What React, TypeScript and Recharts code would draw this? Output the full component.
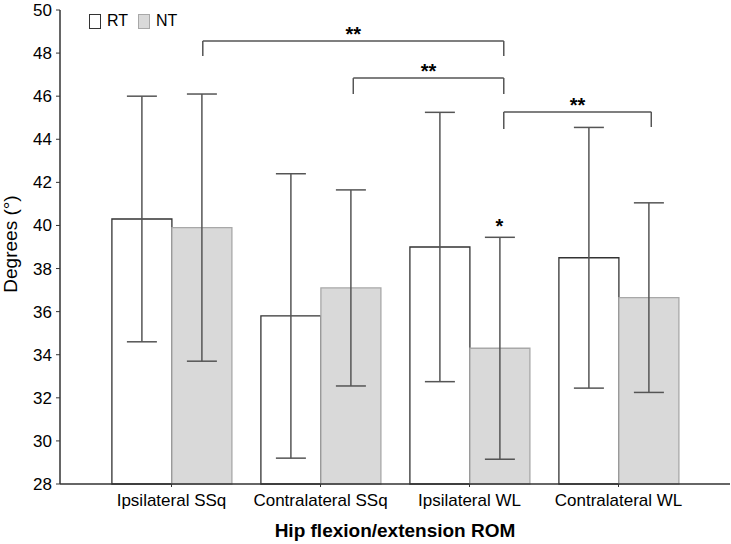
import React from 'react';
import {
  BarChart,
  Bar,
  XAxis,
  YAxis,
  ErrorBar,
  ReferenceLine,
  ReferenceDot,
  Label,
} from 'recharts';

const categories = ['Ipsilateral SSq', 'Contralateral SSq', 'Ipsilateral WL', 'Contralateral WL'];
const rtMean = [40.3, 35.8, 39.0, 38.5];
const rtSd = [5.7, 6.6, 6.25, 6.05];
const ntMean = [39.9, 37.1, 34.3, 36.65];
const ntSd = [6.2, 4.55, 5.15, 4.4];
const yTicks = [28, 30, 32, 34, 36, 38, 40, 42, 44, 46, 48, 50];

// significance brackets, x in group units on a hidden numeric axis (0..4)
const bracketFrom = [0.71, 1.72, 2.73];
const bracketTo = [2.73, 2.73, 3.72];
const bracketLevel = [48.56, 46.84, 45.27];
const bracketFromEnd = [47.87, 46.1, 44.48];
const bracketToEnd = [47.87, 46.1, 44.57];
const bracketText = ['**', '**', '**'];

const starX = 2.7;
const starY = 40.0;

const seriesNames = ['RT', 'NT'];
const seriesFill = ['#ffffff', '#d9d9d9'];
const seriesStroke = ['#333333', '#a8a8a8'];

const data = categories.map((name, i) => ({
  name,
  slot: i + 0.5,
  rt: rtMean[i],
  rtErr: rtSd[i],
  nt: ntMean[i],
  ntErr: ntSd[i],
}));

const FONT = '"Liberation Sans", Arial, sans-serif';

function YLabel({ viewBox }: any) {
  const cx = 10;
  const cy = viewBox.y + viewBox.height / 2 - 3;
  return (
    <text
      x={cx}
      y={cy}
      transform={`rotate(-90 ${cx} ${cy})`}
      textAnchor="middle"
      dominantBaseline="central"
      fontSize={19}
      fill="#000"
      fontFamily={FONT}
    >
      Degrees (°)
    </text>
  );
}

export default function App() {
  return (
    <div style={{ position: 'absolute', left: 0, top: 0, width: 731, height: 544, background: '#fff', fontFamily: FONT }}>
      <BarChart
        width={731}
        height={544}
        data={data}
        margin={{ top: 10, right: 1, left: 0, bottom: 0 }}
        barGap={0}
        barCategoryGap="10%"
      >
        <XAxis
          dataKey="name"
          height={60}
          padding={{ left: 37, right: 37 }}
          axisLine={{ stroke: '#333', strokeWidth: 1.5 }}
          tickLine={{ stroke: '#333' }}
          tickSize={3}
          tickMargin={7}
          tick={{ fontSize: 17, fill: '#000', fontFamily: FONT }}
        >
          <Label
            value="Hip flexion/extension ROM"
            position="insideBottom"
            offset={7}
            style={{ fontSize: 19, fontWeight: 'bold', fill: '#000', fontFamily: FONT }}
          />
        </XAxis>
        <XAxis
          xAxisId="num"
          dataKey="slot"
          type="number"
          domain={[0, 4]}
          ticks={[0, 1, 2, 3, 4]}
          allowDataOverflow
          padding={{ left: 37, right: 37 }}
          hide
        />
        <YAxis
          width={60}
          domain={[28, 50]}
          ticks={yTicks}
          interval={0}
          axisLine={{ stroke: '#333', strokeWidth: 1.5 }}
          tickLine={{ stroke: '#333' }}
          tickSize={4}
          tickMargin={4}
          tick={{ fontSize: 17, fill: '#000', fontFamily: FONT }}
          label={<YLabel />}
        />
        <Bar dataKey="rt" name={seriesNames[0]} fill={seriesFill[0]} stroke={seriesStroke[0]} strokeWidth={1.3} isAnimationActive={false}>
          <ErrorBar dataKey="rtErr" width={15} stroke="#555" strokeWidth={1.5} direction="y" />
        </Bar>
        <Bar dataKey="nt" name={seriesNames[1]} fill={seriesFill[1]} stroke={seriesStroke[1]} strokeWidth={1.3} isAnimationActive={false}>
          <ErrorBar dataKey="ntErr" width={15} stroke="#555" strokeWidth={1.5} direction="y" />
        </Bar>
        {bracketFrom.map((x1, i) => (
          <ReferenceLine
            key={`h${i}`}
            xAxisId="num"
            segment={[
              { x: x1, y: bracketLevel[i] },
              { x: bracketTo[i], y: bracketLevel[i] },
            ]}
            stroke="#555"
            strokeWidth={1.5}
            label={{
              value: bracketText[i],
              position: 'top',
              offset: 0,
              style: { fontSize: 20, fontWeight: 'bold', fill: '#000', fontFamily: FONT },
            }}
          />
        ))}
        {bracketFrom.map((x1, i) => (
          <ReferenceLine
            key={`l${i}`}
            xAxisId="num"
            segment={[
              { x: x1, y: bracketLevel[i] },
              { x: x1, y: bracketFromEnd[i] },
            ]}
            stroke="#555"
            strokeWidth={1.5}
          />
        ))}
        {bracketTo.map((x2, i) => (
          <ReferenceLine
            key={`r${i}`}
            xAxisId="num"
            segment={[
              { x: x2, y: bracketLevel[i] },
              { x: x2, y: bracketToEnd[i] },
            ]}
            stroke="#555"
            strokeWidth={1.5}
          />
        ))}
        <ReferenceDot
          xAxisId="num"
          x={starX}
          y={starY}
          r={0}
          stroke="none"
          label={{ value: '*', position: 'center', style: { fontSize: 20, fontWeight: 'bold', fill: '#000', fontFamily: FONT } }}
        />
      </BarChart>
      <div style={{ position: 'absolute', left: 89, top: 12, display: 'flex', alignItems: 'center', fontSize: 16, color: '#000' }}>
        {seriesNames.map((n, i) => (
          <div key={n} style={{ display: 'flex', alignItems: 'center', marginRight: 10 }}>
            <span
              style={{
                display: 'inline-block',
                width: 10,
                height: 13,
                background: seriesFill[i],
                border: `1px solid ${seriesStroke[i]}`,
                marginRight: 6,
              }}
            />
            <span>{n}</span>
          </div>
        ))}
      </div>
    </div>
  );
}
